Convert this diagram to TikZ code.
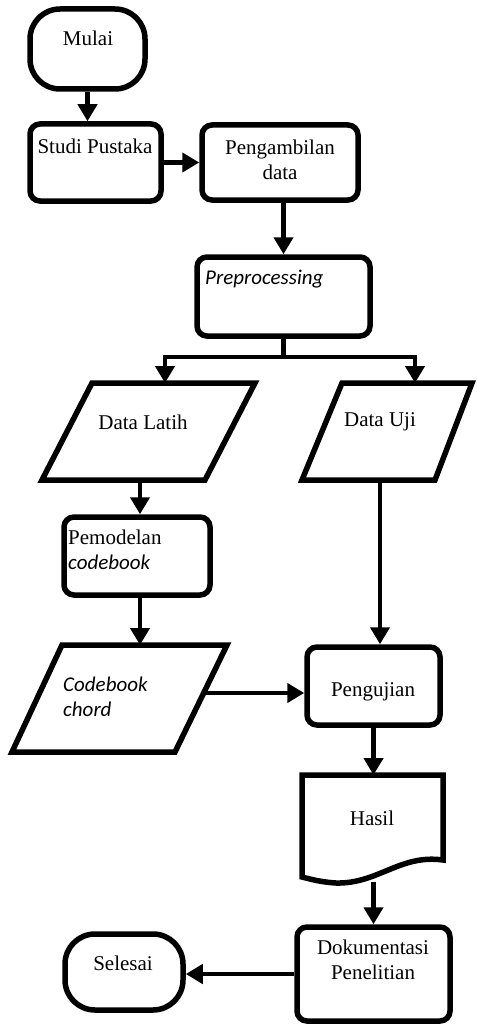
\documentclass[tikz,border=0pt]{standalone}
\usepackage{fontspec}
\setmainfont{Liberation Serif}
\newfontfamily\carlito{Carlito}
\usetikzlibrary{arrows.meta}
\begin{document}
\begin{tikzpicture}[x=1pt,y=-1pt,
  every node/.style={font=\fontsize{21}{25}\selectfont, inner sep=0pt},
  frame/.style={draw, line width=5.5pt},
  box/.style={frame, rounded corners=10pt},
  term/.style={frame, rounded corners=30pt},
  io/.style={frame, line join=miter},
  flow/.style={line width=4.5pt, -{Triangle[length=17pt,width=19pt]}},
  plain/.style={line width=4.5pt},
  it/.style={font=\fontsize{21}{25}\selectfont\carlito\itshape}]

\useasboundingbox (0,0) rectangle (477,1027);

% process boxes and terminals
\node[term, minimum width=115pt, minimum height=80pt] (mulai) at (87.5,49) {};
\node[box, minimum width=131pt, minimum height=77pt] (studi) at (95.5,162.5) {};
\node[box, minimum width=156pt, minimum height=75pt] (ambil) at (280,162.5) {};
\node[box, minimum width=173pt, minimum height=79pt] (pre) at (283.5,296.5) {};
\node[box, minimum width=146pt, minimum height=78pt] (pemo) at (137,556) {};
\node[box, minimum width=133pt, minimum height=78pt] (uji) at (373.5,686) {};
\node[box, minimum width=153pt, minimum height=94pt] (dok) at (373.5,974) {};
\node[term, minimum width=118pt, minimum height=76pt] (selesai) at (124,972) {};

% data (input/output) parallelograms
\draw[io] (92,383) -- (255,383) -- (205,480) -- (42,480) -- cycle;
\draw[io] (342,383) -- (472,383) -- (435,480) -- (302,480) -- cycle;
\draw[io] (62,645) -- (227,645) -- (175,752) -- (12,752) -- cycle;

% document shape
\draw[io] (302,775) -- (443,775) -- (443,860)
  .. controls (400,854) and (378,884) .. (336,883)
  .. controls (320,882) and (310,879) .. (302,877) -- cycle;

% labels
\node (tmulai) at (88,38) {Mulai};
\node (tstudi) at (95,146) {Studi Pustaka};
\node[align=center] (tambil) at (280,160) {Pengambilan\\data};
\node[it, anchor=west] (tpre) at (205,279) {Preprocessing};
\node (tlatih) at (143,422) {Data Latih};
\node (tdatauji) at (380,422) {Data Uji};
\node[align=left, anchor=west] (tpemo) at (68,550) {Pemodelan\\{\carlito\itshape codebook}};
\node[it, align=left, anchor=west] (tchord) at (63,697) {Codebook\\chord};
\node (tuji) at (373,692) {Pengujian};
\node (thasil) at (372,818) {Hasil};
\node[align=center] (tdok) at (373,960) {Dokumentasi\\Penelitian};
\node (tselesai) at (123,963) {Selesai};

% connector end points on the drawn shapes
\coordinate (split) at (283.5,357);
\coordinate (latihin) at (165,383);
\coordinate (datain) at (415,383);
\coordinate (latihout) at (140,480);
\coordinate (chordin) at (140,645);
\coordinate (chordout) at (205,693);
\coordinate (dataout) at (380,480);
\coordinate (hasilin) at (373.5,775);
\coordinate (hasilout) at (373.5,882);

% connectors
\draw[flow] (mulai.south) -- (mulai.south |- studi.north);
\draw[flow] (studi.east) -- (ambil.west);
\draw[flow] (pre.north |- ambil.south) -- (pre.north);
\draw[plain] (pre.south) -- (split);
\draw[flow] (split) -| (latihin);
\draw[flow] (split) -| (datain);
\draw[flow] (latihout) -- (latihout |- pemo.north);
\draw[flow] (latihout |- pemo.south) -- (chordin);
\draw[flow] (dataout) -- (dataout |- uji.north);
\draw[flow] (chordout) -- (chordout -| uji.west);
\draw[flow] (uji.south) -- (hasilin);
\draw[flow] (hasilout) -- (dok.north);
\draw[flow] (dok.west) -- (dok.west -| selesai.east);
\end{tikzpicture}
\end{document}
